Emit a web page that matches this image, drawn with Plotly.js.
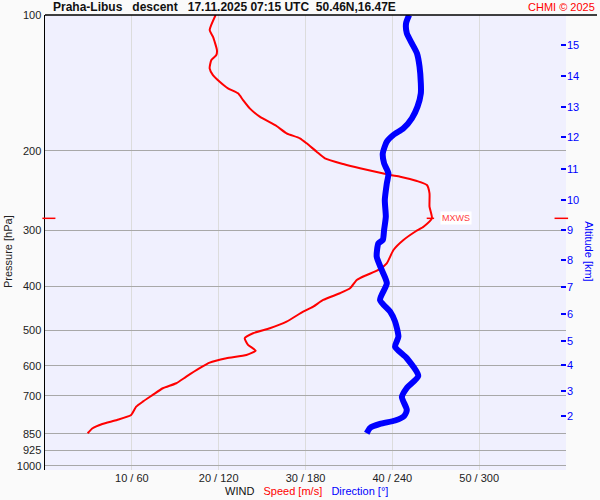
<!DOCTYPE html>
<html><head><meta charset="utf-8">
<script src="https://cdn.plot.ly/plotly-3.0.1.min.js"></script>
<style>body{margin:0;background:#fafafa}</style>
</head><body><div id="chart" style="width:600px;height:500px"></div>
<script>
// Wind speed profile (pressure hPa, speed m/s)
const speedPressure = [100,108.0,111.7,119.6,122.7,125.8,131.3,135.9,140.6,145.4,149.2,154.4,161.1,168.1,176.3,183.0,187.7,192.6,201.0,207.9,214.1,218.8,223.8,226.5,228.4,233.5,238.3,248.6,266.2,282.5,294.9,301.4,315.6,332.1,355.4,367.8,377.3,387.0,403.8,414.2,428.6,443.5,455.0,478.8,495.3,508.1,521.2,539.4,555.3,567.6,577.3,590.4,607.5,634.2,655.9,672.9,696.3,720.6,739.2,771.3,791.2,807.6,825.5,846.8];
const speed = [19.65,18.96,19.34,19.80,19.73,19.16,18.96,19.34,20.12,21.07,22.23,22.81,23.58,24.73,26.66,27.82,29.35,30.13,31.28,32.24,34.35,36.28,38.59,39.75,40.90,42.83,43.98,44.28,44.28,44.56,43.59,42.75,41.28,40.13,39.36,38.39,37.06,35.90,35.13,33.97,32.04,30.89,29.73,27.82,25.89,23.96,23.00,23.38,24.27,23.20,20.89,18.96,17.81,16.27,15.12,13.57,12.41,11.26,10.50,9.92,8.3,6.6,5.48,4.91];
// Wind direction profile (pressure hPa, direction deg)
const dirPressure = [100,104.3,109.8,115.6,121.6,130.2,141.7,149.2,159.7,169.5,178.4,184.6,191.0,202.7,213.3,224.5,236.3,257.3,280.2,299.9,315.6,321.0,343.7,367.8,393.6,428.6,455.0,478.8,517.0,544.3,577.3,632.0,671.9,703.5,751.6,775.2,793.4,807.6,824.2,846.8];
const direction = [251.6,249.5,250.0,253.5,257.0,258.8,259.7,259.7,257.4,253.5,247.7,240.7,236.2,233.4,234.3,237.3,236.2,234.8,235.5,234.3,233.4,230.4,229.2,232.7,236.2,231.5,238.5,241.9,244.2,241.9,250.0,257.9,250.0,246.6,250.0,248.2,241.9,231.5,224.6,222.3];
// Axes
const pressureTicks = [100,200,300,400,500,600,700,850,925,1000];
const speedTicks = [10,20,30,40,50,60];
const speedTickText = ['10 / 60','20 / 120','30 / 180','40 / 240','50 / 300',''];
const altitudeKm = [2,3,4,5,6,7,8,9,10,11,12,13,14,15];
const altitudePressure = [775.5,681.5,598.5,527.9,460.6,401.8,349.6,299.9,257.3,219.6,186.7,160.2,136.6,116.6];

const FONT = 'Liberation Sans, Arial, sans-serif';
const yRange = [3.0093, 2];

// max wind
let im = 0;
speed.forEach((v,i)=>{ if (v > speed[im]) im = i; });
const sMax = speed[im], pMax = speedPressure[im];
const lpMax = Math.log10(pMax);

const traces = [
  {x: direction, y: dirPressure, xaxis:'x2', yaxis:'y', mode:'lines', line:{color:'#0000ff', width:6, shape:'spline', smoothing:0.6}, hoverinfo:'skip'},
  {x: speed, y: speedPressure, xaxis:'x', yaxis:'y', mode:'lines', line:{color:'#ff0000', width:2, shape:'spline', smoothing:0.5}, hoverinfo:'skip'},
  {x: [null], y: [null], xaxis:'x', yaxis:'y2', mode:'lines', showlegend:false, hoverinfo:'skip'}
];

const layout = {
  width:600, height:500,
  margin:{l:45, r:34, t:15, b:30, pad:0},
  paper_bgcolor:'#fafafa', plot_bgcolor:'#f0f0fe',
  showlegend:false,
  font:{family:FONT, size:11, color:'#222'},
  xaxis:{range:[0,60], tickvals:speedTicks, ticktext:speedTickText, showgrid:true, gridcolor:'#dcdcdc', gridwidth:1, zeroline:false, showline:false, ticks:'', tickfont:{size:11, color:'#222'}, fixedrange:true},
  xaxis2:{range:[0,360], overlaying:'x', visible:false, fixedrange:true},
  yaxis:{type:'log', range:yRange, tickvals:pressureTicks, ticktext:pressureTicks.map(String), showgrid:true, gridcolor:'#a8a8a8', gridwidth:1, zeroline:false, showline:true, linecolor:'#000', linewidth:1.5, ticks:'', tickfont:{size:11, color:'#222'}, fixedrange:true},
  yaxis2:{type:'log', range:yRange, overlaying:'y', side:'right', tickvals:altitudePressure, ticktext:altitudeKm.map(String), showgrid:false, zeroline:false, showline:false, ticks:'inside', ticklen:5, tickwidth:2, tickcolor:'#0000ff', tickfont:{size:11, color:'#0000ff'}, fixedrange:true},
  shapes:[
    {type:'line', xref:'paper', yref:'paper', x0:0, x1:1.0595, y0:1, y1:1, line:{color:'#000', width:1.5}},
    {type:'line', xref:'paper', yref:'y', x0:-0.005, x1:0.02, y0:pMax, y1:pMax, line:{color:'#ff0000', width:1.5}},
    {type:'line', xref:'paper', yref:'y', x0:0.978, x1:1.004, y0:pMax, y1:pMax, line:{color:'#ff0000', width:1.5}},
    {type:'line', xref:'x', yref:'y', x0:sMax-0.6, x1:sMax+0.25, y0:pMax, y1:pMax, line:{color:'#ff0000', width:1.5}}
  ],
  annotations:[
    {xref:'paper', yref:'paper', x:0.0106, y:1.0165, xanchor:'left', yanchor:'middle', showarrow:false,
     text:'<b>Praha-Libus\u00a0\u00a0\u00a0descent\u00a0\u00a0\u00a017.11.2025 07:15 UTC\u00a0\u00a050.46N,16.47E</b>', font:{size:12, color:'#111'}},
    {xref:'paper', yref:'paper', x:1.0595, y:1.0165, xanchor:'right', yanchor:'middle', showarrow:false,
     text:'CHMI © 2025', font:{size:11, color:'#ff0000'}},
    {xref:'paper', yref:'paper', x:0.501, y:-0.0462, xanchor:'center', yanchor:'middle', showarrow:false,
     text:'WIND\u00a0\u00a0\u00a0<span style="color:#ff0000">Speed [m/s]</span>\u00a0\u00a0\u00a0<span style="color:#0000ff">Direction [°]</span>', font:{size:11, color:'#111'}},
    {xref:'paper', yref:'paper', x:-0.071, y:0.479, xanchor:'center', yanchor:'middle', showarrow:false, textangle:-90,
     text:'Pressure [hPa]', font:{size:11, color:'#222'}},
    {xref:'paper', yref:'paper', x:1.044, y:0.479, xanchor:'center', yanchor:'middle', showarrow:false, textangle:90,
     text:'Altitude [km]', font:{size:11, color:'#0000ff'}},
    {xref:'x', yref:'y', x:sMax+0.95, y:lpMax, xanchor:'left', yanchor:'middle', showarrow:false,
     text:'MXWS', bgcolor:'#ffffff', borderpad:1, font:{size:9, color:'#ff4040'}}
  ]
};
Plotly.newPlot('chart', traces, layout, {staticPlot:true, displayModeBar:false});
</script></body></html>
